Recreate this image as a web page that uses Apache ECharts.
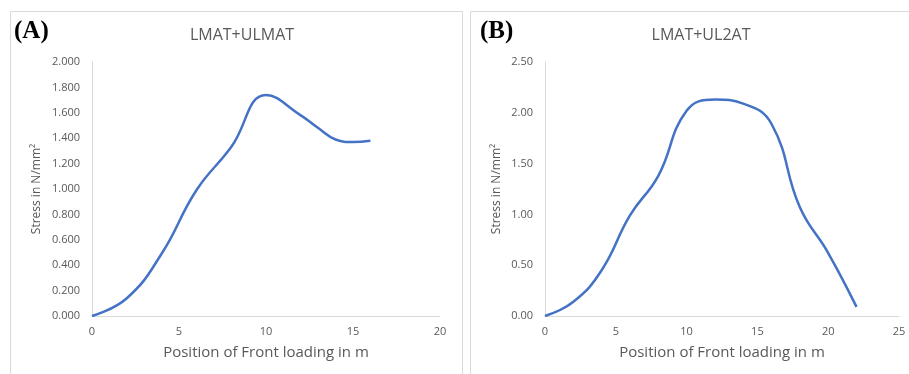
<!DOCTYPE html>
<html>
<head>
<meta charset="utf-8">
<script src="https://cdn.jsdelivr.net/npm/echarts@6/dist/echarts.min.js"></script>
<style>
  html, body { margin: 0; padding: 0; background: #fff; }
  #chart { width: 909px; height: 374px; }
</style>
</head>
<body>
<div id="chart"></div>
<script>
// position of front loading (m) and stress (N/mm2)
var posA = [0, 2, 4, 6, 8, 10, 12, 13, 14, 15, 16];
var stressA = [0, 0.14, 0.49, 0.99, 1.33, 1.74, 1.58, 1.48, 1.39, 1.37, 1.38];
var posB = [0, 2, 4, 6, 8, 10, 12, 14, 16, 18, 20, 22];
var stressB = [0, 0.14, 0.45, 0.99, 1.38, 2.02, 2.13, 2.09, 1.89, 1.07, 0.62, 0.09];

var titleA = 'LMAT+ULMAT';
var titleB = 'LMAT+UL2AT';
var xName = 'Position of Front loading in m';
var yName = 'Stress in N/mm\u00B2';

function pairs(xs, ys) {
    return xs.map(function(x, i) { return [x, ys[i]]; });
}

var font = 'Open Sans';
var grey = '#595959';
var axisGrey = '#d9d9d9';

function xAxis(grid, max) {
    return {
        type: 'value', gridIndex: grid, min: 0, max: max, interval: 5,
        name: xName, nameLocation: 'middle', nameGap: 29,
        nameTextStyle: { color: grey, fontSize: 15, fontFamily: font },
        axisLine: { show: true, lineStyle: { color: axisGrey, width: 1 } },
        axisTick: { show: false },
        splitLine: { show: false },
        axisLabel: { color: grey, fontSize: 11, fontFamily: font, margin: 10 }
    };
}
function yAxis(grid, max, interval, digits, gap) {
    return {
        type: 'value', gridIndex: grid, min: 0, max: max, interval: interval,
        name: yName, nameLocation: 'middle', nameGap: gap, nameRotate: 90,
        nameTextStyle: { color: grey, fontSize: 12, fontFamily: font },
        axisLine: { show: true, lineStyle: { color: axisGrey, width: 1 } },
        axisTick: { show: false },
        splitLine: { show: false },
        axisLabel: {
            color: grey, fontSize: 11, fontFamily: font, margin: 12,
            formatter: function(v) { return v.toFixed(digits); }
        }
    };
}

var chart = echarts.init(document.getElementById('chart'));
var option = {
    backgroundColor: '#fff',
    animation: false,
    title: [
        { text: titleA, left: 237, top: 22, textAlign: 'center',
          textStyle: { color: grey, fontSize: 16, fontWeight: 'normal', fontFamily: font } },
        { text: titleB, left: 696, top: 22, textAlign: 'center',
          textStyle: { color: grey, fontSize: 16, fontWeight: 'normal', fontFamily: font } }
    ],
    graphic: [
        { type: 'rect', shape: { x: 10.5, y: 11.5, width: 452, height: 380 },
          style: { fill: 'none', stroke: axisGrey, lineWidth: 1 }, silent: true },
        { type: 'rect', shape: { x: 470.5, y: 11.5, width: 460, height: 380 },
          style: { fill: 'none', stroke: axisGrey, lineWidth: 1 }, silent: true },
        { type: 'text', left: 14, top: 19,
          style: { text: '(A)', fill: '#000', font: 'bold 25px "Liberation Serif"' } },
        { type: 'text', left: 480, top: 19,
          style: { text: '(B)', fill: '#000', font: 'bold 25px "Liberation Serif"' } }
    ],
    grid: [
        { left: 92, top: 62, width: 348, height: 254 },
        { left: 545, top: 62, width: 354, height: 254 }
    ],
    xAxis: [xAxis(0, 20), xAxis(1, 25)],
    yAxis: [yAxis(0, 2, 0.2, 3, 49), yAxis(1, 2.5, 0.5, 2, 42)],
    series: [
        { type: 'line', xAxisIndex: 0, yAxisIndex: 0, data: pairs(posA, stressA),
          smooth: 0.45, showSymbol: false, lineStyle: { color: '#4472c4', width: 2.5 } },
        { type: 'line', xAxisIndex: 1, yAxisIndex: 1, data: pairs(posB, stressB),
          smooth: 0.45, showSymbol: false, lineStyle: { color: '#4472c4', width: 2.5 } }
    ]
};
chart.setOption(option);
</script>
</body>
</html>
